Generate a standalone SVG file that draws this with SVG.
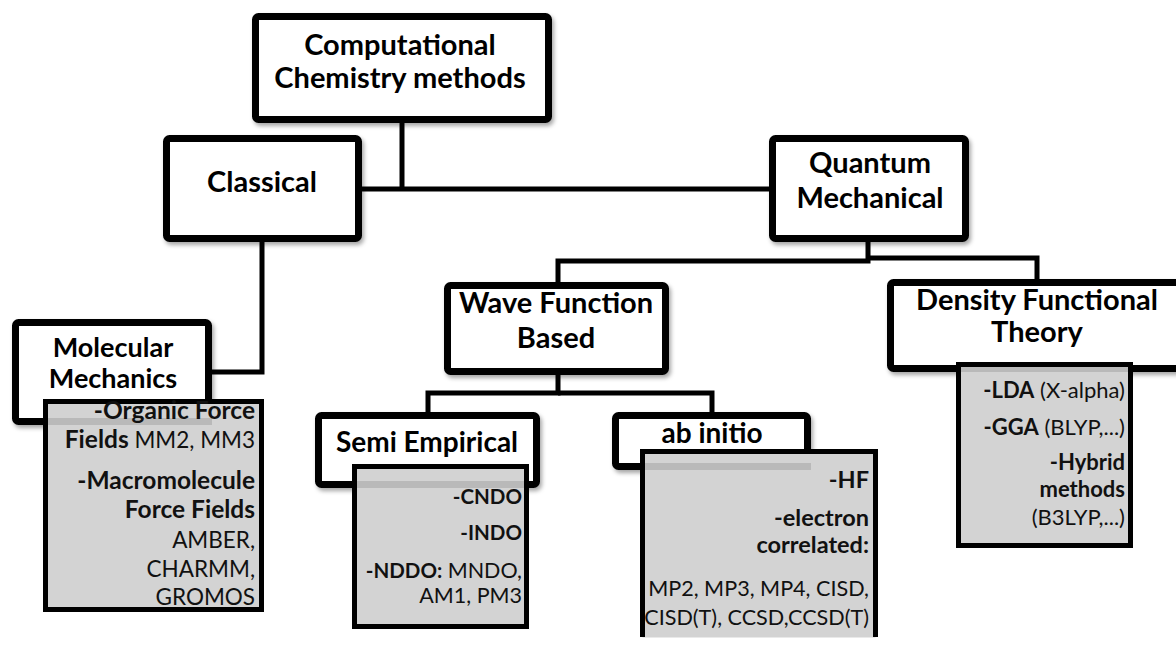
<svg xmlns="http://www.w3.org/2000/svg" width="1176" height="646" viewBox="0 0 1176 646">
<defs>
<filter id="sh" x="-10%" y="-10%" width="130%" height="140%">
<feDropShadow dx="2" dy="3" stdDeviation="2" flood-color="#000" flood-opacity="0.35"/>
</filter>
<style>
.box{fill:#fff;stroke:#000;stroke-width:7;filter:url(#sh)}
.gbox{fill:#d3d3d3;stroke:#000;stroke-width:5}
.band{fill:#b9b9b9}
.con{fill:none;stroke:#000;stroke-width:5}
.h{font-family:Lato,"Liberation Sans",sans-serif;font-weight:bold;font-size:29px;text-anchor:middle;fill:#000}
.h28{font-size:28px}
.h27{font-size:27px}
.g{font-family:Lato,"Liberation Sans",sans-serif;font-size:22px;text-anchor:end;fill:#111}
.b{font-weight:bold}
#mm .g{font-size:22.5px}
#mm .b{font-size:24.5px}
#semi .g{font-size:21.5px}
#semi .b{font-size:20.5px}
#abinitio .g{font-size:21.6px}
#abinitio .b{font-size:23.5px}
</style>
</defs>
<rect width="1176" height="646" fill="#fff"/>
<g id="connectors">
<path class="con" d="M402,123 V189"/>
<path class="con" d="M362,189 H769"/>
<path class="con" d="M262,242 V372 H212"/>
<path class="con" d="M868,242 V261 H558 V282"/>
<path class="con" d="M868,258 H1037 V279"/>
<path class="con" d="M558,375 V393 H428 V412"/>
<path class="con" d="M558,393 H712 V412"/>
</g>
<g id="top">
<rect class="box" x="255.5" y="16.5" width="293" height="103" rx="3"/>
<text class="h" x="400" y="55">Computational</text>
<text class="h" x="400" y="88">Chemistry methods</text>
</g>
<g id="classical">
<rect class="box" x="166.5" y="138.5" width="192" height="100" rx="3"/>
<text class="h" x="262" y="192">Classical</text>
</g>
<g id="quantum">
<rect class="box" x="772.5" y="138.5" width="193" height="100" rx="3"/>
<text class="h" x="870" y="173">Quantum</text>
<text class="h" x="870" y="208">Mechanical</text>
</g>
<g id="wave">
<rect class="box" x="447.5" y="285.5" width="218" height="86" rx="3"/>
<text class="h" x="556" y="313">Wave Function</text>
<text class="h" x="556" y="348">Based</text>
</g>
<g id="mm">
<rect class="box" x="15.5" y="322.5" width="193" height="99" rx="3"/>
<text class="h h27" x="113" y="357">Molecular</text>
<text class="h h27" x="113" y="388">Mechanics</text>
<rect class="gbox" x="45.5" y="401.5" width="216" height="208"/>
<rect class="band" x="48" y="418" width="164" height="7"/>
<text class="g" x="255" y="419"><tspan class="b">-Organic Force</tspan></text>
<text class="g" x="255" y="448"><tspan class="b">Fields</tspan> MM2, MM3</text>
<text class="g" x="255" y="489"><tspan class="b">-Macromolecule</tspan></text>
<text class="g" x="255" y="518"><tspan class="b">Force Fields</tspan></text>
<text class="g" x="255" y="548">AMBER,</text>
<text class="g" x="255" y="577">CHARMM,</text>
<text class="g" x="255" y="605">GROMOS</text>
</g>
<g id="semi">
<rect class="box" x="318.5" y="415.5" width="218" height="69" rx="3"/>
<text class="h h28" x="427" y="452">Semi Empirical</text>
<rect class="gbox" x="354.5" y="466.5" width="172" height="160"/>
<rect class="band" x="357" y="481" width="167" height="7"/>
<text class="g" x="522" y="504"><tspan class="b">-CNDO</tspan></text>
<text class="g" x="522" y="540"><tspan class="b">-INDO</tspan></text>
<text class="g" x="522" y="578"><tspan class="b">-NDDO:</tspan> MNDO,</text>
<text class="g" x="522" y="603">AM1, PM3</text>
</g>
<g id="abinitio">
<rect class="box" x="615.5" y="415.5" width="192" height="51" rx="3"/>
<text class="h h28" x="712" y="443">ab initio</text>
<rect x="642.5" y="451.5" width="233" height="186" fill="#d3d3d3"/>
<path d="M642.5,637 V451.5 H875.5 V637" fill="none" stroke="#000" stroke-width="5"/>
<rect class="band" x="645" y="463" width="166" height="7"/>
<text class="g" x="869" y="488"><tspan class="b">-HF</tspan></text>
<text class="g" x="869" y="526"><tspan class="b">-electron</tspan></text>
<text class="g" x="869" y="553"><tspan class="b">correlated:</tspan></text>
<text class="g" x="869" y="596">MP2, MP3, MP4, CISD,</text>
<text class="g" x="869" y="625">CISD(T), CCSD,CCSD(T)</text>
</g>
<g id="dft">
<rect class="box" x="890.5" y="282.5" width="300" height="86" rx="3"/>
<text class="h" x="1037" y="310">Density Functional</text>
<text class="h" x="1037" y="342">Theory</text>
<rect class="gbox" x="958.5" y="364.5" width="172" height="181"/>
<rect class="band" x="961" y="367" width="167" height="5"/>
<text class="g" x="1125" y="398"><tspan class="b">-LDA</tspan> (X-alpha)</text>
<text class="g" x="1125" y="435"><tspan class="b">-GGA</tspan> (BLYP,...)</text>
<text class="g" x="1125" y="470"><tspan class="b">-Hybrid</tspan></text>
<text class="g" x="1125" y="497"><tspan class="b">methods</tspan></text>
<text class="g" x="1125" y="525">(B3LYP,...)</text>
</g>
</svg>
